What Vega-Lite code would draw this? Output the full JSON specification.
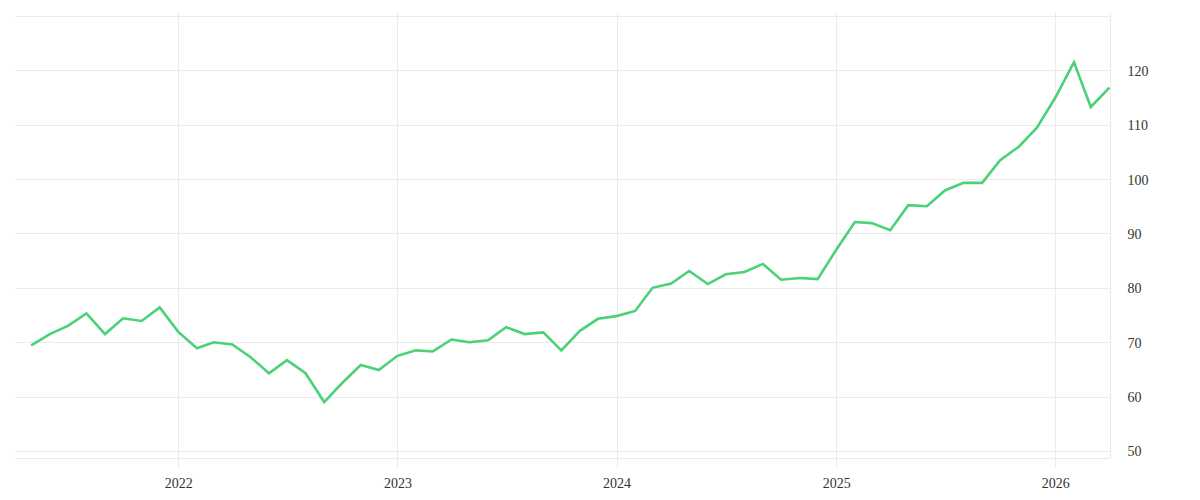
{
  "$schema": "https://vega.github.io/schema/vega-lite/v6.json",
  "autosize": "none",
  "width": 1095,
  "height": 446,
  "padding": {"left": 15, "top": 12, "right": 90, "bottom": 42},
  "background": "white",
  "config": {
    "view": {"stroke": null},
    "axis": {"labelFont": "Liberation Serif", "labelFontSize": 14, "labelColor": "#333333", "gridColor": "#ebebeb", "gridWidth": 1}
  },
  "data": {
    "values": [
      {"date": "2021-05-01", "value": 69.4},
      {"date": "2021-06-01", "value": 71.5},
      {"date": "2021-07-01", "value": 73.0},
      {"date": "2021-08-01", "value": 75.3},
      {"date": "2021-09-01", "value": 71.5},
      {"date": "2021-10-01", "value": 74.4},
      {"date": "2021-11-01", "value": 73.9},
      {"date": "2021-12-01", "value": 76.4},
      {"date": "2022-01-01", "value": 71.9},
      {"date": "2022-02-01", "value": 68.9},
      {"date": "2022-03-01", "value": 70.0},
      {"date": "2022-04-01", "value": 69.6},
      {"date": "2022-05-01", "value": 67.3},
      {"date": "2022-06-01", "value": 64.3},
      {"date": "2022-07-01", "value": 66.7},
      {"date": "2022-08-01", "value": 64.3},
      {"date": "2022-09-01", "value": 59.0},
      {"date": "2022-10-01", "value": 62.5},
      {"date": "2022-11-01", "value": 65.8},
      {"date": "2022-12-01", "value": 64.9},
      {"date": "2023-01-01", "value": 67.5},
      {"date": "2023-02-01", "value": 68.5},
      {"date": "2023-03-01", "value": 68.3},
      {"date": "2023-04-01", "value": 70.5},
      {"date": "2023-05-01", "value": 70.0},
      {"date": "2023-06-01", "value": 70.35},
      {"date": "2023-07-01", "value": 72.75},
      {"date": "2023-08-01", "value": 71.5},
      {"date": "2023-09-01", "value": 71.8},
      {"date": "2023-10-01", "value": 68.5},
      {"date": "2023-11-01", "value": 72.1},
      {"date": "2023-12-01", "value": 74.3},
      {"date": "2024-01-01", "value": 74.8},
      {"date": "2024-02-01", "value": 75.75},
      {"date": "2024-03-01", "value": 80.0},
      {"date": "2024-04-01", "value": 80.8},
      {"date": "2024-05-01", "value": 83.1},
      {"date": "2024-06-01", "value": 80.7},
      {"date": "2024-07-01", "value": 82.5},
      {"date": "2024-08-01", "value": 82.9},
      {"date": "2024-09-01", "value": 84.4},
      {"date": "2024-10-01", "value": 81.5},
      {"date": "2024-11-01", "value": 81.8},
      {"date": "2024-12-01", "value": 81.6},
      {"date": "2025-01-01", "value": 87.0},
      {"date": "2025-02-01", "value": 92.1},
      {"date": "2025-03-01", "value": 91.9},
      {"date": "2025-04-01", "value": 90.6},
      {"date": "2025-05-01", "value": 95.2},
      {"date": "2025-06-01", "value": 95.0},
      {"date": "2025-07-01", "value": 97.9},
      {"date": "2025-08-01", "value": 99.3},
      {"date": "2025-09-01", "value": 99.3},
      {"date": "2025-10-01", "value": 103.45},
      {"date": "2025-11-01", "value": 105.95},
      {"date": "2025-12-01", "value": 109.4},
      {"date": "2026-01-01", "value": 115.0},
      {"date": "2026-02-01", "value": 121.5},
      {"date": "2026-03-01", "value": 113.25},
      {"date": "2026-04-01", "value": 116.8}
    ]
  },
  "mark": {"type": "line", "color": "#4bd178", "strokeWidth": 2.6, "strokeJoin": "miter"},
  "encoding": {
    "x": {
      "field": "date",
      "type": "temporal",
      "scale": {"type": "utc", "domain": ["2021-04-04", "2026-04-02"], "nice": false},
      "axis": {
        "title": null,
        "format": "%Y",
        "tickCount": "year",
        "grid": true,
        "domain": true,
        "domainColor": "#ebebeb",
        "domainWidth": 1,
        "ticks": true,
        "tickColor": "#ebebeb",
        "tickSize": 10,
        "labelPadding": 8,
        "labelFlush": false
      }
    },
    "y": {
      "field": "value",
      "type": "quantitative",
      "scale": {"domain": [48.71, 130.72], "nice": false, "zero": false},
      "axis": {
        "title": null,
        "orient": "right",
        "values": [50, 60, 70, 80, 90, 100, 110, 120, 130],
        "labelExpr": "datum.value == 130 ? '' : datum.label",
        "grid": true,
        "domain": true,
        "domainColor": "#ebebeb",
        "ticks": false,
        "labelPadding": 17,
        "labelOffset": 1,
        "labelAlign": "left"
      }
    }
  }
}
